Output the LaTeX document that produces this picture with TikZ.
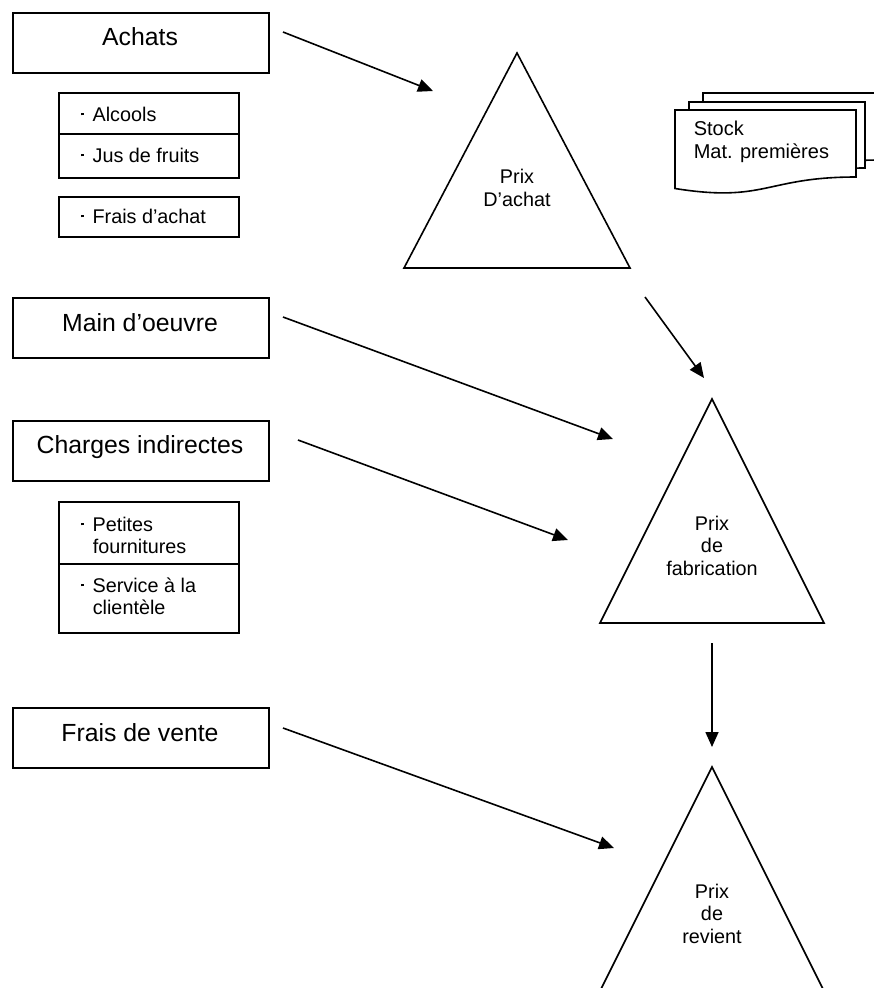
\documentclass[tikz,border=0pt]{standalone}
\usepackage{fontspec}
\setmainfont{Liberation Sans}
\usetikzlibrary{arrows.meta}
\begin{document}
\begin{tikzpicture}[x=1pt,y=-1pt,line width=1.6pt,line join=miter,
  bigbox/.style={draw,rectangle,minimum width=256pt,minimum height=60pt,inner sep=0pt,anchor=north west},
  smallbox/.style={draw,rectangle,minimum width=180pt,inner sep=0pt,anchor=north west},
  bigtxt/.style={anchor=base,inner sep=0pt,font=\fontsize{24.8}{29}\selectfont},
  smalltxt/.style={anchor=base west,inner sep=0pt,font=\fontsize{19.8}{23}\selectfont},
  tritxt/.style={anchor=base,inner sep=0pt,font=\fontsize{19.8}{23}\selectfont},
  docsty/.style={draw,fill=white},
  arr/.style={-{Triangle[length=15pt,width=13pt]}}]
\useasboundingbox (0,0) rectangle (874,988);

% main boxes
\node[bigbox] (achats) at (12,12) {};
\node[bigtxt] (tachats) at (140,45) {Achats};
\node[bigbox] (main) at (12,297) {};
\node[bigtxt] (tmain) at (140,331) {Main d’oeuvre};
\node[bigbox] (charges) at (12,420) {};
\node[bigtxt] (tcharges) at (140,453) {Charges indirectes};
\node[bigbox] (vente) at (12,707) {};
\node[bigtxt] (tvente) at (140,741) {Frais de vente};

% sub boxes
\newcommand{\bul}{\rule[5.6pt]{2.8pt}{2.8pt}\hspace{8.4pt}}
\node[smallbox,minimum height=41pt] (alc) at (58,92) {};
\node[smallbox,minimum height=44pt] (jus) at (58,133) {};
\node[smallbox,minimum height=40pt] (fach) at (58,196) {};
\node[smalltxt] (talc) at (80.6,121) {\bul Alcools};
\node[smalltxt] (tjus) at (80.6,162) {\bul Jus de fruits};
\node[smalltxt] (tfach) at (80.6,223) {\bul Frais d’achat};

\node[smallbox,minimum height=62pt] (pet) at (58,501) {};
\node[smallbox,minimum height=69pt] (serv) at (58,563) {};
\node[smalltxt] (tpet1) at (80.6,531) {\bul Petites};
\node[smalltxt] (tpet2) at (92,553) {fournitures};
\node[smalltxt] (tserv1) at (80.6,592) {\bul Service à la};
\node[smalltxt] (tserv2) at (92,614) {clientèle};

% triangles
\coordinate (apex1) at (517,53);
\draw (apex1) -- (630,268) -- (404,268) -- cycle;
\node[tritxt] (t1a) at (517,183) {Prix};
\node[tritxt] (t1b) at (517,206) {D’achat};

\coordinate (apex2) at (712,399);
\draw (apex2) -- (824,623) -- (600,623) -- cycle;
\node[tritxt] (t2a) at (712,530) {Prix};
\node[tritxt] (t2b) at (712,552.5) {de};
\node[tritxt] (t2c) at (712,575) {fabrication};

\coordinate (apex3) at (712,767);
\draw (apex3) -- (824,991) -- (600,991) -- cycle;
\node[tritxt] (t3a) at (712,898) {Prix};
\node[tritxt] (t3b) at (712,920.5) {de};
\node[tritxt] (t3c) at (712,943) {revient};

% stock documents
\draw[docsty] (703,93) -- (880,93) -- (880,160) .. controls (791,160) and (791,186) .. (703,171.5) -- cycle;
\draw[docsty] (689,102) -- (865,102) -- (865,168) .. controls (777,168) and (777,194) .. (689,179.5) -- cycle;
\draw[docsty] (675,110) -- (856,110) -- (856,177) .. controls (765.5,177) and (765.5,203) .. (675,188.5) -- cycle;
\node[anchor=base west,inner sep=0pt,font=\fontsize{20}{24}\selectfont] (stock1) at (693,135) {Stock};
\node[anchor=base west,inner sep=0pt,font=\fontsize{20}{24}\selectfont] (stock2) at (693,158) {Mat. premières};

% arrows
\coordinate (a1s) at (283,32);   \coordinate (a1e) at (433,91);
\coordinate (a2s) at (283,317);  \coordinate (a2e) at (613,439);
\coordinate (a3s) at (645,297);  \coordinate (a3e) at (704,378);
\coordinate (a4s) at (298,440);  \coordinate (a4e) at (568,540);
\coordinate (a5s) at (712,643);  \coordinate (a5e) at (712,747);
\coordinate (a6s) at (283,728);  \coordinate (a6e) at (614,848);
\draw[arr] (a1s) -- (a1e);
\draw[arr] (a2s) -- (a2e);
\draw[arr] (a3s) -- (a3e);
\draw[arr] (a4s) -- (a4e);
\draw[arr] (a5s) -- (a5e);
\draw[arr] (a6s) -- (a6e);
\end{tikzpicture}
\end{document}
